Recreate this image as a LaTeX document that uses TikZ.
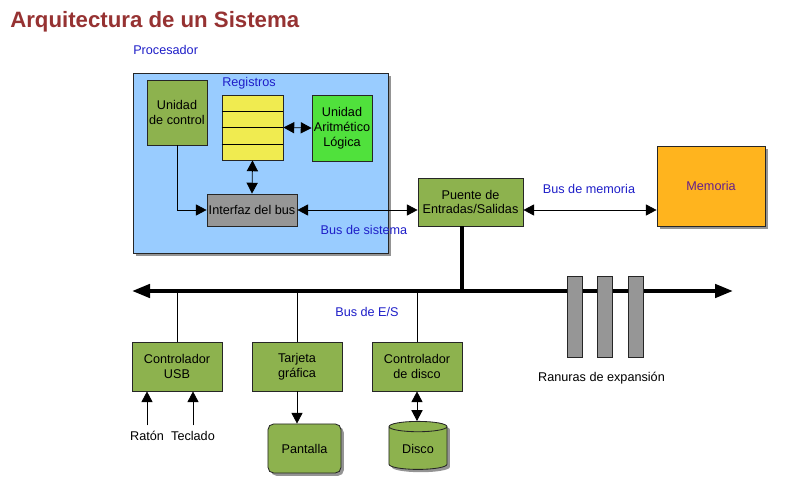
\documentclass[tikz,border=0pt]{standalone}
\usepackage{fontspec}
\setmainfont{Liberation Sans}
\usetikzlibrary{arrows.meta,shapes.geometric,shadows,calc}
\definecolor{procblue}{RGB}{153,204,255}
\definecolor{oliveg}{RGB}{141,178,78}
\definecolor{alugreen}{RGB}{80,225,60}
\definecolor{regyellow}{RGB}{240,235,80}
\definecolor{ifgray}{RGB}{150,150,150}
\definecolor{memorange}{RGB}{255,180,30}
\definecolor{memtext}{RGB}{100,30,140}
\definecolor{labelblue}{RGB}{30,30,200}
\definecolor{titlered}{RGB}{150,50,50}

\begin{document}
\begin{tikzpicture}[x=0.025cm, y=-0.025cm,
	every node/.style={font=\fontsize{9}{10.5}\selectfont},
	>={Triangle[length=2.7mm,width=2.8mm]},
	box/.style={draw=black!85, line width=0.6pt, align=center, inner sep=1pt},
	greenbox/.style={box, fill=oliveg, minimum width=2.25cm, minimum height=1.225cm},
	bluelabel/.style={text=labelblue},
	conn/.style={line width=0.6pt},
	busline/.style={line width=2.8pt},
	sh/.style={drop shadow={shadow xshift=0.07cm, shadow yshift=-0.07cm, opacity=0.6, fill=black!70}}]
	\useasboundingbox (0,0) rectangle (791,490);
	\node[anchor=west, inner sep=0, text=titlered, font=\fontsize{15.8}{18}\selectfont\bfseries] (titulo) at (10,22) {Arquitectura de un Sistema};
	\node[box, sh, fill=procblue, minimum width=6.375cm, minimum height=4.5cm] (proc) at (260.5,163) {};
	\node[bluelabel, anchor=west, inner sep=0] (procl) at (133,50) {Procesador};
	\node[box, fill=oliveg, minimum width=1.5cm, minimum height=1.625cm] (uc) at (177,112.5) {Unidad\\de control};
	\node[bluelabel, anchor=west, inner sep=0] (regl) at (222,83) {Registros};
	\node[box, fill=regyellow, minimum width=1.525cm, minimum height=1.625cm] (regs) at (252.5,127.5) {};
	\foreach \k in {1,2,3}
		\draw[conn] ($(regs.north west)!\k/4!(regs.south west)$) -- ($(regs.north east)!\k/4!(regs.south east)$);
	\node[box, fill=alugreen, minimum width=1.5cm, minimum height=1.65cm] (alu) at (342,128) {Unidad\\Aritmético\\Lógica};
	\node[box, fill=ifgray, minimum width=2.25cm, minimum height=0.8cm] (interfaz) at (252,210) {Interfaz del bus};
	\node[box, fill=oliveg, minimum width=2.625cm, minimum height=1.2cm] (puente) at (470.5,202) {Puente de\\Entradas/Salidas};
	\node[box, sh, fill=memorange, text=memtext, minimum width=2.7cm, minimum height=2cm] (memoria) at (711,186) {Memoria};
	\draw[conn, <->] (regs.east) -- (alu.west);
	\draw[conn, <->] (regs.south) -- (interfaz.north);
	\draw[conn, ->] (uc.south) |- (interfaz.west);
	\draw[conn, <->] (interfaz.east) -- (interfaz.east -| puente.west);
	\draw[conn, <->] (interfaz.east -| puente.east) -- (interfaz.east -| memoria.west);
	\node[bluelabel] (bsis) at (364,230) {Bus de sistema};
	\node[bluelabel] (bmem) at (589,189) {Bus de memoria};
	\coordinate (busizq) at (132,291);
	\coordinate (busder) at (733,291);
	\coordinate (pj) at (462,291);
	\node[greenbox] (usb) at (177,366.5) {Controlador\\USB};
	\node[greenbox] (tarjeta) at (297,366.5) {Tarjeta\\gráfica};
	\node[greenbox] (ctrldisco) at (417,366.5) {Controlador\\de disco};
	\foreach \n in {usb,tarjeta,ctrldisco}
		\draw[conn] (\n.north) -- (\n.north |- busizq);
	\draw[line width=2.2pt] (pj) -- (pj |- puente.south);
	\draw[busline, {Triangle[length=4.5mm,width=3.3mm]}-{Triangle[length=4.5mm,width=3.3mm]}] (busizq) -- (busder);
	\node[bluelabel] (bes) at (367,312) {Bus de E/S};
	\foreach \x [count=\i] in {575,604.5,635.5}
		\node[box, fill=ifgray, minimum width=0.375cm, minimum height=2.025cm] (ranura\i) at (\x,316.5) {};
	\node (ranl) at (601.5,378) {Ranuras de expansión};
	\node[inner sep=4pt] (raton) at (147,436) {Ratón};
	\node[inner sep=4pt] (teclado) at (193,436) {Teclado};
	\draw[conn, ->] (raton.north) -- (raton.north |- usb.south);
	\draw[conn, ->] (teclado.north) -- (teclado.north |- usb.south);
	\node[box, sh, fill=oliveg, rounded corners=4pt, minimum width=1.825cm, minimum height=1.225cm] (pantalla) at (304.5,448.5) {Pantalla};
	\node[box, sh, cylinder, shape border rotate=90, aspect=0.3, fill=oliveg, minimum width=1.45cm, minimum height=1.2cm] (disco) at (418,449) {Disco};
	\draw[conn, ->] (tarjeta.south) -- (tarjeta.south |- pantalla.north);
	\draw[conn, <->] (ctrldisco.south) -- (ctrldisco.south |- disco.north);
\end{tikzpicture}
\end{document}
